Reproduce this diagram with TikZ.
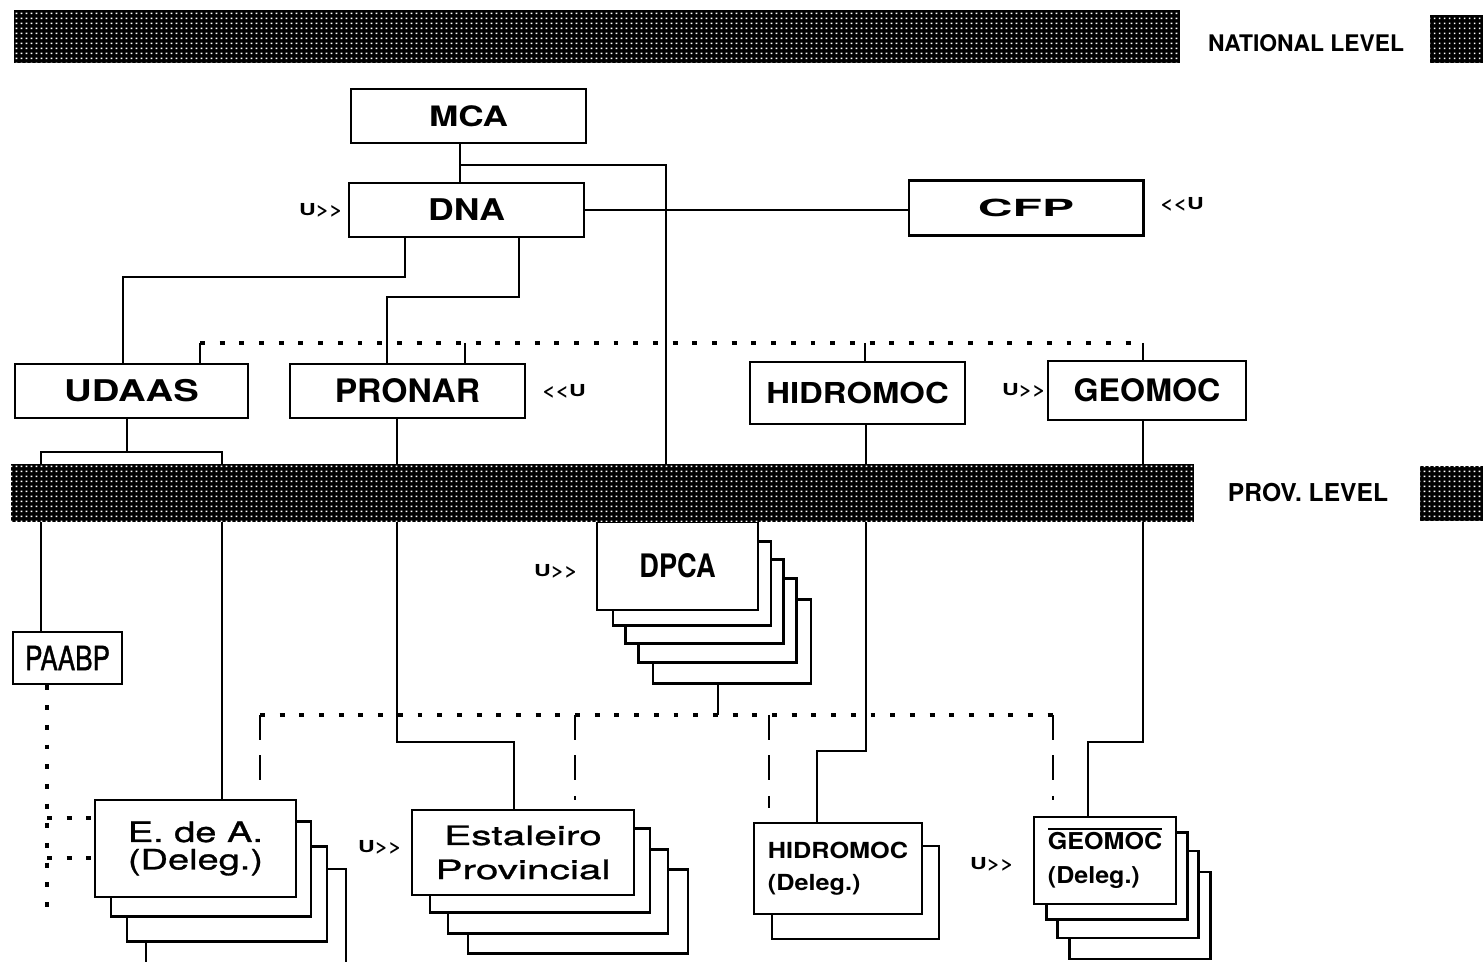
\documentclass[tikz,border=0pt]{standalone}
\usepackage{fontspec}
\setmainfont{TeX Gyre Heros}
\usetikzlibrary{positioning,patterns.meta}

\tikzdeclarepattern{
  name=halftone,
  type=uncolored,
  bottom left={(0pt,0pt)},
  top right={(1.4pt,1.4pt)},
  tile size={(1.4pt,1.4pt)},
  code={\pgfpathrectangle{\pgfqpoint{0.5pt}{0.5pt}}{\pgfqpoint{0.45pt}{0.45pt}}\pgfusepath{fill}}
}

\begin{document}
\begin{tikzpicture}[x=0.01cm,y=-0.01cm,
    box/.style={draw,fill=white,line width=0.8pt,inner sep=0pt},
    txt/.style n args={3}{font=\fontsize{#1}{#2}\selectfont\bfseries\addfontfeatures{FakeStretch=#3}},
    plain/.style n args={3}{font=\fontsize{#1}{#2}\selectfont\addfontfeatures{FakeStretch=#3,FakeBold=1}},
    tag/.style={txt={4.7}{5}{1.4},inner sep=0pt},
    link/.style={line width=0.6pt},
    dotline/.style={line width=0.9pt,dash pattern=on 1.4pt off 4.2pt},
    dashline/.style={line width=0.6pt,dash pattern=on 7pt off 4.5pt},
    band/.style={fill=black,postaction={pattern=halftone,pattern color=white}}]
    \useasboundingbox (0,0) rectangle (1483,962);

    % National level
    \node[box,txt={8}{9}{1.25},minimum width=2.35cm,minimum height=0.54cm] (mca) at (468.5,116) {MCA};
    \node[box,txt={8.5}{9}{1.19},minimum width=2.35cm,minimum height=0.54cm] (dna) at (466.5,210) {DNA};
    \node[box,txt={6.7}{7}{2.04},minimum width=2.34cm,minimum height=0.55cm] (cfp) at (1026,208) {CFP};
    \node[box,txt={8.5}{9}{1.28},minimum width=2.33cm,minimum height=0.54cm] (udaas) at (131.5,391) {UDAAS};
    \node[box,txt={9.2}{10}{1.04},minimum width=2.35cm,minimum height=0.54cm] (pronar) at (407.5,391) {PRONAR};
    \node[box,txt={8.2}{9}{1.14},minimum width=2.15cm,minimum height=0.62cm] (hidromoc) at (857.5,393) {HIDROMOC};
    \node[box,txt={8.8}{9}{1.04},minimum width=1.98cm,minimum height=0.59cm] (geomoc) at (1147,390.5) {GEOMOC};

    \node[tag,left=0.04cm of dna] (udna) {U>{}>};
    \node[tag,right=0.15cm of cfp,yshift=1pt] (ucfp) {<{}<U};
    \node[tag,right=0.15cm of pronar] (upronar) {<{}<U};
    \node[tag,left=0cm of geomoc] (ugeomoc) {U>{}>};

    % Links at national level
    \coordinate (m1) at (460,165);
    \coordinate (m2) at (666,165);
    \draw[link] (mca.south -| m1) -- (dna.north -| m1);
    \draw[link] (m1) -- (m2) -- (666,522);
    \draw[link] (dna.east) -- (dna.east -| cfp.west);
    \coordinate (u1) at (405,277);
    \coordinate (u2) at (123,277);
    \draw[link] (dna.south -| u1) -- (u1) -- (u2) -- (udaas.north -| u2);
    \coordinate (p1) at (519,297);
    \coordinate (p2) at (387,297);
    \draw[link] (dna.south -| p1) -- (p1) -- (p2) -- (pronar.north -| p2);
    \coordinate (c1) at (200,343);
    \coordinate (c2) at (465,343);
    \coordinate (c3) at (865,343);
    \coordinate (c4) at (1143,343);
    \draw[dotline] (c1) -- (c4);
    \draw[link] (c1) -- (udaas.north -| c1);
    \draw[link] (c2) -- (pronar.north -| c2);
    \draw[link] (c3) -- (hidromoc.north -| c3);
    \draw[link] (c4) -- (geomoc.north -| c4);

    % Provincial level
    \node[box,plain={9.5}{10}{0.78},minimum width=1.09cm,minimum height=0.52cm] (paabp) at (67.5,658) {PAABP};
    \foreach \n/\cx/\cy in {5/732/641.5,4/717.5/620.5,3/704.5/601.5,2/692/583.5}
      \node[box,minimum width=1.58cm,minimum height=0.84cm] (dpca\n) at (\cx,\cy) {};
    \node[box,txt={9.2}{10}{0.84},minimum width=1.61cm,minimum height=0.88cm] (dpca) at (677.5,566) {DPCA};
    \foreach \n/\cx/\cy in {4/246/916.5,3/227/894,2/211/869}
      \node[box,minimum width=2.0cm,minimum height=0.95cm] (eda\n) at (\cx,\cy) {};
    \node[box,plain={8}{7.8}{1.35},align=center,minimum width=2.01cm,minimum height=0.97cm] (eda) at (195.5,848.5) {E. de A.\\(Deleg.)};
    \foreach \n/\cx/\cy in {4/578/911.5,3/558/891.5,2/540/870.5}
      \node[box,minimum width=2.2cm,minimum height=0.84cm] (est\n) at (\cx,\cy) {};
    \node[box,plain={7.6}{9.7}{1.52},align=center,minimum width=2.22cm,minimum height=0.85cm] (est) at (523,852.5) {Estaleiro\\Provincial};
    \node[box,minimum width=1.67cm,minimum height=0.93cm] (hdeleg2) at (855.5,892.5) {};
    \node[box,txt={6.3}{9.1}{1.14},align=left,minimum width=1.68cm,minimum height=0.91cm] (hdeleg) at (838,868.5) {HIDROMOC\\(Deleg.)};
    \foreach \n/\cx/\cy in {4/1140/915.5,3/1128/894.5,2/1117/876}
      \node[box,minimum width=1.41cm,minimum height=0.87cm] (gdeleg\n) at (\cx,\cy) {};
    \node[box,txt={6.6}{9.7}{1.08},align=left,minimum width=1.42cm,minimum height=0.87cm] (gdeleg) at (1105,860.5) {GEOMOC\\(Deleg.)};
    \draw[line width=0.6pt] (1048,829) -- (1162,829);

    \node[tag,left=0.17cm of dpca,yshift=-1.5pt] (udpca) {U>{}>};
    \node[tag,left=0.08cm of est,yshift=1.5pt] (uest) {U>{}>};
    \node[tag,left=0.18cm of gdeleg,yshift=-1pt] (ugdeleg) {U>{}>};

    % Links down to the provinces
    \coordinate (s1) at (127,452);
    \coordinate (s2) at (41,452);
    \coordinate (s3) at (222,452);
    \draw[link] (udaas.south -| s1) -- (s1);
    \draw[link] (paabp.north -| s2) -- (s2) -- (s3) -- (eda.north -| s3);
    \coordinate (r1) at (397,742);
    \coordinate (r2) at (514,742);
    \draw[link] (pronar.south -| r1) -- (r1) -- (r2) -- (est.north -| r2);
    \coordinate (h1) at (866,751);
    \coordinate (h2) at (817,751);
    \draw[link] (hidromoc.south -| h1) -- (h1) -- (h2) -- (hdeleg.north -| h2);
    \coordinate (g1) at (1143,742);
    \coordinate (g2) at (1088,742);
    \draw[link] (geomoc.south -| g1) -- (g1) -- (g2) -- (gdeleg.north -| g2);

    % Coordination at provincial level
    \coordinate (d0) at (260,715);
    \coordinate (d1) at (718,715);
    \coordinate (d2) at (575,715);
    \coordinate (d3) at (769,715);
    \coordinate (d4) at (1053,715);
    \draw[link] (dpca5.south -| d1) -- (d1);
    \draw[dotline] (d0) -- (d4);
    \coordinate (e0) at (260,790);
    \coordinate (e2) at (575,800);
    \coordinate (e3) at (769,808);
    \coordinate (e4) at (1053,800);
    \draw[dashline] (d0) -- (e0);
    \draw[dashline] (d2) -- (e2);
    \draw[dashline] (d3) -- (e3);
    \draw[dashline] (d4) -- (e4);
    \coordinate (q1) at (47,910);
    \coordinate (q2) at (47,818);
    \coordinate (q3) at (47,858);
    \draw[dotline] (paabp.south -| q1) -- (q1);
    \draw[dotline] (q2) -- (eda.west |- q2);
    \draw[dotline] (q3) -- (eda.west |- q3);

    % Level bands
    \path[band] (14,10) rectangle (1180,63);
    \path[band] (1430,15) rectangle (1483,63);
    \node[txt={6.5}{7}{1.0}] (natl) at (1306,43) {NATIONAL LEVEL};
    \path[band] (11,464) rectangle (1194,522);
    \path[band] (1420,466) rectangle (1483,521);
    \node[txt={7}{8}{1.0}] (provl) at (1308,493) {PROV. LEVEL};
  \end{tikzpicture}
\end{document}
